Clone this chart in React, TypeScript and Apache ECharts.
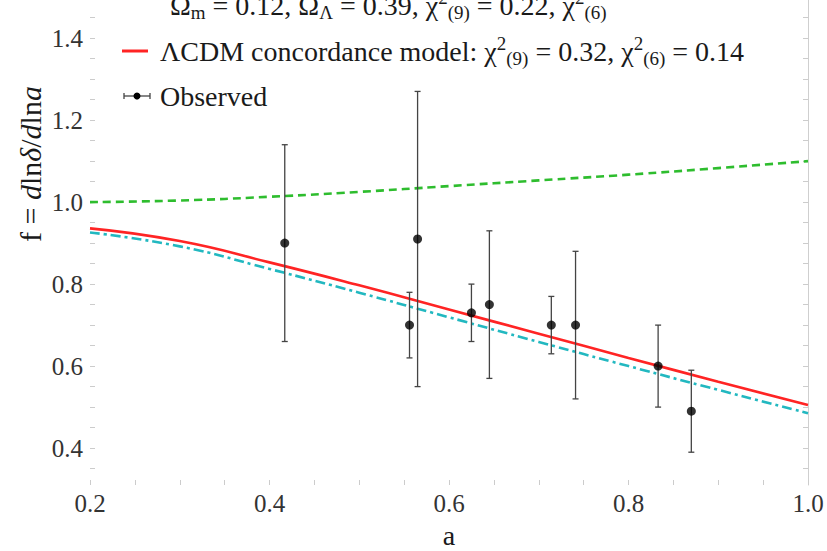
import React, { useEffect, useRef } from "react";
import * as echarts from "echarts";

// Observed growth-rate data (scale factor a, f, symmetric error)
const obsA = [0.417, 0.556, 0.565, 0.625, 0.645, 0.714, 0.741, 0.833, 0.870];
const obsF = [0.90, 0.70, 0.91, 0.73, 0.75, 0.70, 0.70, 0.60, 0.49];
const obsErr = [0.24, 0.08, 0.36, 0.07, 0.18, 0.07, 0.18, 0.10, 0.10];

// Model curves
const curveA = [0.2, 0.3, 0.4, 0.5, 0.6, 0.7, 0.8, 0.9, 1.0];
const lcdmF = [0.936, 0.905, 0.853, 0.797, 0.738, 0.679, 0.620, 0.562, 0.505];
const cyanF = [0.926, 0.892, 0.837, 0.779, 0.719, 0.659, 0.600, 0.542, 0.485];
const greenF = [1.0, 1.004, 1.013, 1.025, 1.039, 1.053, 1.067, 1.083, 1.10];

// Axis ticks
const xLabelValues = [0.2, 0.4, 0.6, 0.8, 1.0];
const yLabelValues = [0.4, 0.6, 0.8, 1.0, 1.2, 1.4];
const xTickValues = [0.2, 0.25, 0.3, 0.35, 0.4, 0.45, 0.5, 0.55, 0.6, 0.65, 0.7, 0.75, 0.8, 0.85, 0.9, 0.95, 1.0];
const yTickValues = [0.35, 0.4, 0.45, 0.5, 0.55, 0.6, 0.65, 0.7, 0.75, 0.8, 0.85, 0.9, 0.95, 1.0, 1.05, 1.1, 1.15, 1.2, 1.25, 1.3, 1.35, 1.4, 1.45];

const FONT = "Liberation Serif";
const TXT = "#1a1a1a";

export default function App() {
  const ref = useRef<HTMLDivElement>(null);
  useEffect(() => {
    const chart = echarts.init(ref.current!, null, { renderer: "svg" });
    const pair = (xs: number[], ys: number[]) => xs.map((x, i) => [x, ys[i]]);
    const richScript = {
      sup: { fontSize: 19, fontFamily: FONT, fill: TXT, padding: [0, 0, 15, 0], verticalAlign: "middle" },
      sub: { fontSize: 19, fontFamily: FONT, fill: TXT, padding: [15, 0, 0, 0], verticalAlign: "middle" },
    };
    const option: any = {
      animation: false,
      backgroundColor: "#ffffff",
      textStyle: { fontFamily: FONT },
      grid: { left: 90, right: 19, top: 0, bottom: 66, containLabel: false },
      xAxis: {
        type: "value",
        min: 0.2,
        max: 1.0,
        axisLine: { show: false },
        splitLine: { show: false },
        axisTick: { show: true, inside: true, length: 5, customValues: xTickValues, lineStyle: { color: "#cccccc" } },
        axisLabel: {
          customValues: xLabelValues,
          formatter: (v: number) => v.toFixed(1),
          fontSize: 25,
          fontFamily: FONT,
          color: "#333",
          margin: 6,
        },
      },
      yAxis: [
        {
          type: "value",
          position: "left",
          min: 0.31,
          max: 1.493,
          axisLine: { show: false },
          splitLine: { show: false },
          axisTick: { show: true, inside: true, length: 5, customValues: yTickValues, lineStyle: { color: "#cccccc" } },
          axisLabel: {
            customValues: yLabelValues,
            formatter: (v: number) => v.toFixed(1),
            fontSize: 25,
            fontFamily: FONT,
            color: "#333",
            margin: 7,
          },
        },
        {
          type: "value",
          position: "right",
          min: 0.31,
          max: 1.493,
          axisLine: { show: true, lineStyle: { color: "#cfcfcf", width: 1 } },
          splitLine: { show: false },
          axisTick: { show: true, inside: true, length: 5, customValues: yTickValues, lineStyle: { color: "#cccccc" } },
          axisLabel: { show: false },
        },
      ],
      series: [
        {
          type: "line",
          data: pair(curveA, greenF),
          smooth: true,
          showSymbol: false,
          lineStyle: { color: "#2ebd2e", width: 2.6, type: [8, 5] },
          z: 2,
        },
        {
          type: "line",
          data: pair(curveA, cyanF),
          smooth: true,
          showSymbol: false,
          lineStyle: { color: "#22b8c0", width: 2.6, type: [10, 4, 3, 4] },
          z: 2,
        },
        {
          type: "line",
          data: pair(curveA, lcdmF),
          smooth: true,
          showSymbol: false,
          lineStyle: { color: "#ff2424", width: 2.6 },
          z: 3,
        },
        {
          type: "custom",
          data: obsA.map((a, i) => [a, obsF[i] - obsErr[i], obsF[i] + obsErr[i]]),
          encode: { x: 0, y: [1, 2] },
          z: 4,
          renderItem: (_params: any, api: any) => {
            const lo = api.coord([api.value(0), api.value(1)]);
            const hi = api.coord([api.value(0), api.value(2)]);
            const cw = 3;
            const st = { stroke: "#444", lineWidth: 1.3 };
            return {
              type: "group",
              children: [
                { type: "line", shape: { x1: lo[0], y1: lo[1], x2: hi[0], y2: hi[1] }, style: st },
                { type: "line", shape: { x1: lo[0] - cw, y1: lo[1], x2: lo[0] + cw, y2: lo[1] }, style: st },
                { type: "line", shape: { x1: hi[0] - cw, y1: hi[1], x2: hi[0] + cw, y2: hi[1] }, style: st },
              ],
            };
          },
        },
        {
          type: "scatter",
          data: pair(obsA, obsF),
          symbol: "circle",
          symbolSize: 9,
          itemStyle: { color: "#000" },
          z: 5,
        },
      ],
      graphic: [
        {
          type: "text",
          x: 170,
          y: 5,
          z: 10,
          style: {
            text: "Ω{sub|m} = 0.12, Ω{sub|Λ} = 0.39, χ{sup|2}{sub|(9)} = 0.22, χ{sup|2}{sub|(6)}",
            fontSize: 28,
            fontFamily: FONT,
            fill: TXT,
            textAlign: "left",
            textVerticalAlign: "middle",
            rich: richScript,
          },
        },
        {
          type: "line",
          shape: { x1: 122, y1: 51, x2: 148, y2: 51 },
          style: { stroke: "#ff2424", lineWidth: 3 },
          z: 10,
        },
        {
          type: "text",
          x: 160,
          y: 51,
          z: 10,
          style: {
            text: "ΛCDM concordance model: χ{sup|2}{sub|(9)} = 0.32, χ{sup|2}{sub|(6)} = 0.14",
            fontSize: 28,
            fontFamily: FONT,
            fill: TXT,
            textAlign: "left",
            textVerticalAlign: "middle",
            rich: richScript,
          },
        },
        { type: "line", shape: { x1: 124, y1: 96, x2: 150, y2: 96 }, style: { stroke: "#444", lineWidth: 1.3 }, z: 10 },
        { type: "line", shape: { x1: 124, y1: 93, x2: 124, y2: 99 }, style: { stroke: "#444", lineWidth: 1.3 }, z: 10 },
        { type: "line", shape: { x1: 150, y1: 93, x2: 150, y2: 99 }, style: { stroke: "#444", lineWidth: 1.3 }, z: 10 },
        { type: "circle", shape: { cx: 137, cy: 96, r: 3.5 }, style: { fill: "#000" }, z: 10 },
        {
          type: "text",
          x: 160,
          y: 96,
          z: 10,
          style: {
            text: "Observed",
            fontSize: 28,
            fontFamily: FONT,
            fill: TXT,
            textAlign: "left",
            textVerticalAlign: "middle",
          },
        },
        {
          type: "text",
          x: 30,
          y: 164,
          rotation: Math.PI / 2,
          z: 10,
          style: {
            text: "f = {i|d}ln{i|δ}/{i|d}ln{i|a}",
            fontSize: 30,
            fontFamily: FONT,
            fill: TXT,
            textAlign: "center",
            textVerticalAlign: "middle",
            rich: {
              i: { fontSize: 30, fontFamily: FONT, fontStyle: "italic", fill: TXT, verticalAlign: "middle" },
            },
          },
        },
        {
          type: "text",
          x: 449,
          y: 535,
          z: 10,
          style: {
            text: "a",
            fontSize: 28,
            fontFamily: FONT,
            fill: TXT,
            textAlign: "center",
            textVerticalAlign: "middle",
          },
        },
      ],
    };
    chart.setOption(option);
    return () => chart.dispose();
  }, []);
  return (
    <div
      ref={ref}
      style={{ position: "fixed", left: 0, top: 0, width: 827, height: 551, background: "#fff" }}
    />
  );
}
